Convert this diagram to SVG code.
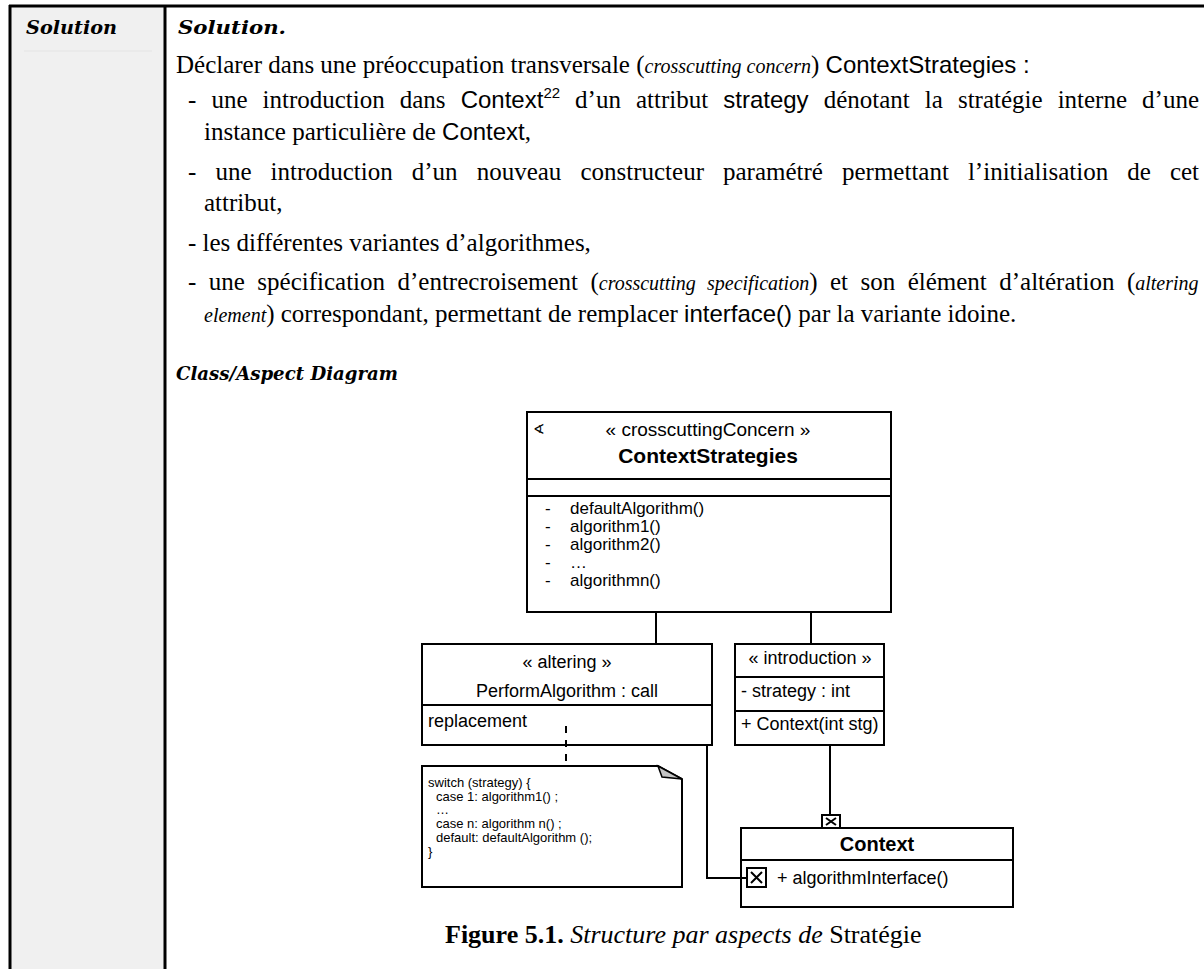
<svg xmlns="http://www.w3.org/2000/svg" width="1204" height="969" viewBox="0 0 1204 969">
<style>
.ser{font-family:"Liberation Serif","Times New Roman",serif;font-size:25px;fill:#000}
.it{font-style:italic;font-size:20px}
.sans{font-family:"Liberation Sans",Arial,sans-serif;font-size:24px}
.sup{font-family:"Liberation Sans",Arial,sans-serif;font-size:15px}
.hd{font-family:"DejaVu Serif",serif;font-weight:bold;font-style:italic;font-size:18px;fill:#000}
.box{fill:#fff;stroke:#000;stroke-width:2}
.ln{stroke:#000;stroke-width:2;fill:none}
.d{font-family:"Liberation Sans",Arial,sans-serif;font-size:18px;fill:#000}
.m{font-family:"Liberation Sans",Arial,sans-serif;font-size:17px;fill:#000}
.n{font-family:"Liberation Sans",Arial,sans-serif;font-size:13px;fill:#000}
.c{text-anchor:middle}
</style>
<g id="table">
<rect x="10" y="6" width="155" height="963" fill="#f0f0f0"/>
<line x1="9" y1="6" x2="1204" y2="6" stroke="#000" stroke-width="3"/>
<line x1="10" y1="5" x2="10" y2="969" stroke="#000" stroke-width="3"/>
<line x1="165" y1="5" x2="165" y2="969" stroke="#000" stroke-width="3"/>
<line x1="24" y1="51" x2="152" y2="51" stroke="#e4e4e4" stroke-width="1"/>
<text class="hd" x="26" y="34" textLength="91" lengthAdjust="spacingAndGlyphs">Solution</text>
</g>
<g id="body">
<text class="hd" x="178" y="34" textLength="108" lengthAdjust="spacingAndGlyphs">Solution.</text>
<text class="ser" x="176" y="73">Déclarer dans une préoccupation transversale (<tspan class="it">crosscutting concern</tspan>) <tspan class="sans">ContextStrategies :</tspan></text>
<text class="ser" x="188" y="108" word-spacing="8.8">- une introduction dans <tspan class="sans">Context</tspan><tspan class="sup" dy="-10">22</tspan><tspan dy="10"> d’un attribut </tspan><tspan class="sans">strategy</tspan> dénotant la stratégie interne d’une</text>
<text class="ser" x="204" y="140">instance particulière de <tspan class="sans">Context</tspan>,</text>
<text class="ser" x="188" y="180" word-spacing="12.8">- une introduction d’un nouveau constructeur paramétré permettant l’initialisation de cet</text>
<text class="ser" x="204" y="211">attribut,</text>
<text class="ser" x="188" y="251">- les différentes variantes d’algorithmes,</text>
<text class="ser" x="188" y="290" word-spacing="6.2">- une spécification d’entrecroisement (<tspan class="it">crosscutting specification</tspan>) et son élément d’altération (<tspan class="it">altering</tspan></text>
<text class="ser" x="204" y="322"><tspan class="it">element</tspan>) correspondant, permettant de remplacer <tspan class="sans">interface()</tspan> par la variante idoine.</text>
<text class="hd" x="176" y="380" style="font-size:19px" textLength="222" lengthAdjust="spacingAndGlyphs">Class/Aspect Diagram</text>
<text class="ser" x="445" y="943" style="font-size:26px"><tspan font-weight="bold">Figure 5.1.</tspan> <tspan font-style="italic">Structure par aspects de</tspan> Stratégie</text>
</g>
<g id="ContextStrategies">
<rect class="box" x="527" y="412" width="364" height="200"/>
<line class="ln" x1="527" y1="479" x2="891" y2="479"/>
<line class="ln" x1="527" y1="496" x2="891" y2="496"/>
<text x="533" y="434" font-family="DejaVu Sans,sans-serif" font-size="14">∢</text>
<text class="d c" x="708" y="436" style="font-size:19px">« crosscuttingConcern »</text>
<text class="d c" x="708" y="463" style="font-size:21px;font-weight:bold">ContextStrategies</text>
<text class="m" x="545" y="514">-</text><text class="m" x="570" y="514">defaultAlgorithm()</text>
<text class="m" x="545" y="532">-</text><text class="m" x="570" y="532">algorithm1()</text>
<text class="m" x="545" y="550">-</text><text class="m" x="570" y="550">algorithm2()</text>
<text class="m" x="545" y="568">-</text><text class="m" x="570" y="568">…</text>
<text class="m" x="545" y="586">-</text><text class="m" x="570" y="586">algorithmn()</text>
</g>
<g id="PerformAlgorithm">
<rect class="box" x="422" y="644" width="290" height="101"/>
<line class="ln" x1="422" y1="705" x2="712" y2="705"/>
<text class="d c" x="567" y="668">« altering »</text>
<text class="d c" x="567" y="697">PerformAlgorithm : call</text>
<text class="d" x="428" y="727">replacement</text>
</g>
<g id="introduction">
<rect class="box" x="735" y="644" width="149" height="101"/>
<line class="ln" x1="735" y1="677" x2="884" y2="677"/>
<line class="ln" x1="735" y1="711" x2="884" y2="711"/>
<text class="d c" x="810" y="664">« introduction »</text>
<text class="d" x="741" y="697">- strategy : int</text>
<text class="d" x="741" y="730">+ Context(int stg)</text>
</g>
<g id="note">
<path class="box" d="M422,766 H658 L682,779 V887 H422 Z"/>
<path d="M658,766 L682,779 L662,777 Z" fill="#c4c4c4" stroke="#000" stroke-width="1.5"/>
<text class="n" x="428" y="787">switch (strategy) {</text>
<text class="n" x="436" y="801">case 1: algorithm1() ;</text>
<text class="n" x="436" y="814">…</text>
<text class="n" x="436" y="828">case n: algorithm n() ;</text>
<text class="n" x="436" y="842">default: defaultAlgorithm ();</text>
<text class="n" x="428" y="856">}</text>
</g>
<g id="Context">
<rect class="box" x="741" y="828" width="272" height="79"/>
<line class="ln" x1="741" y1="860" x2="1013" y2="860"/>
<text class="d c" x="877" y="851" style="font-size:20px;font-weight:bold">Context</text>
<rect class="box" x="822" y="815" width="18" height="13"/>
<path class="ln" d="M826,818 L836,825 M836,818 L826,825" stroke-width="1.5"/>
<rect class="box" x="747" y="868" width="19" height="19"/>
<path class="ln" d="M751,872 L762,883 M762,872 L751,883" stroke-width="1.5"/>
<text class="d" x="777" y="884">+ algorithmInterface()</text>
</g>
<g id="connectors">
<line class="ln" x1="656" y1="612" x2="656" y2="644"/>
<line class="ln" x1="811" y1="612" x2="811" y2="644"/>
<line class="ln" x1="830" y1="745" x2="830" y2="815"/>
<polyline class="ln" points="707,746 707,878 747,878"/>
<line class="ln" x1="566" y1="726" x2="566" y2="762" stroke-dasharray="7,7"/>
</g>
</svg>
